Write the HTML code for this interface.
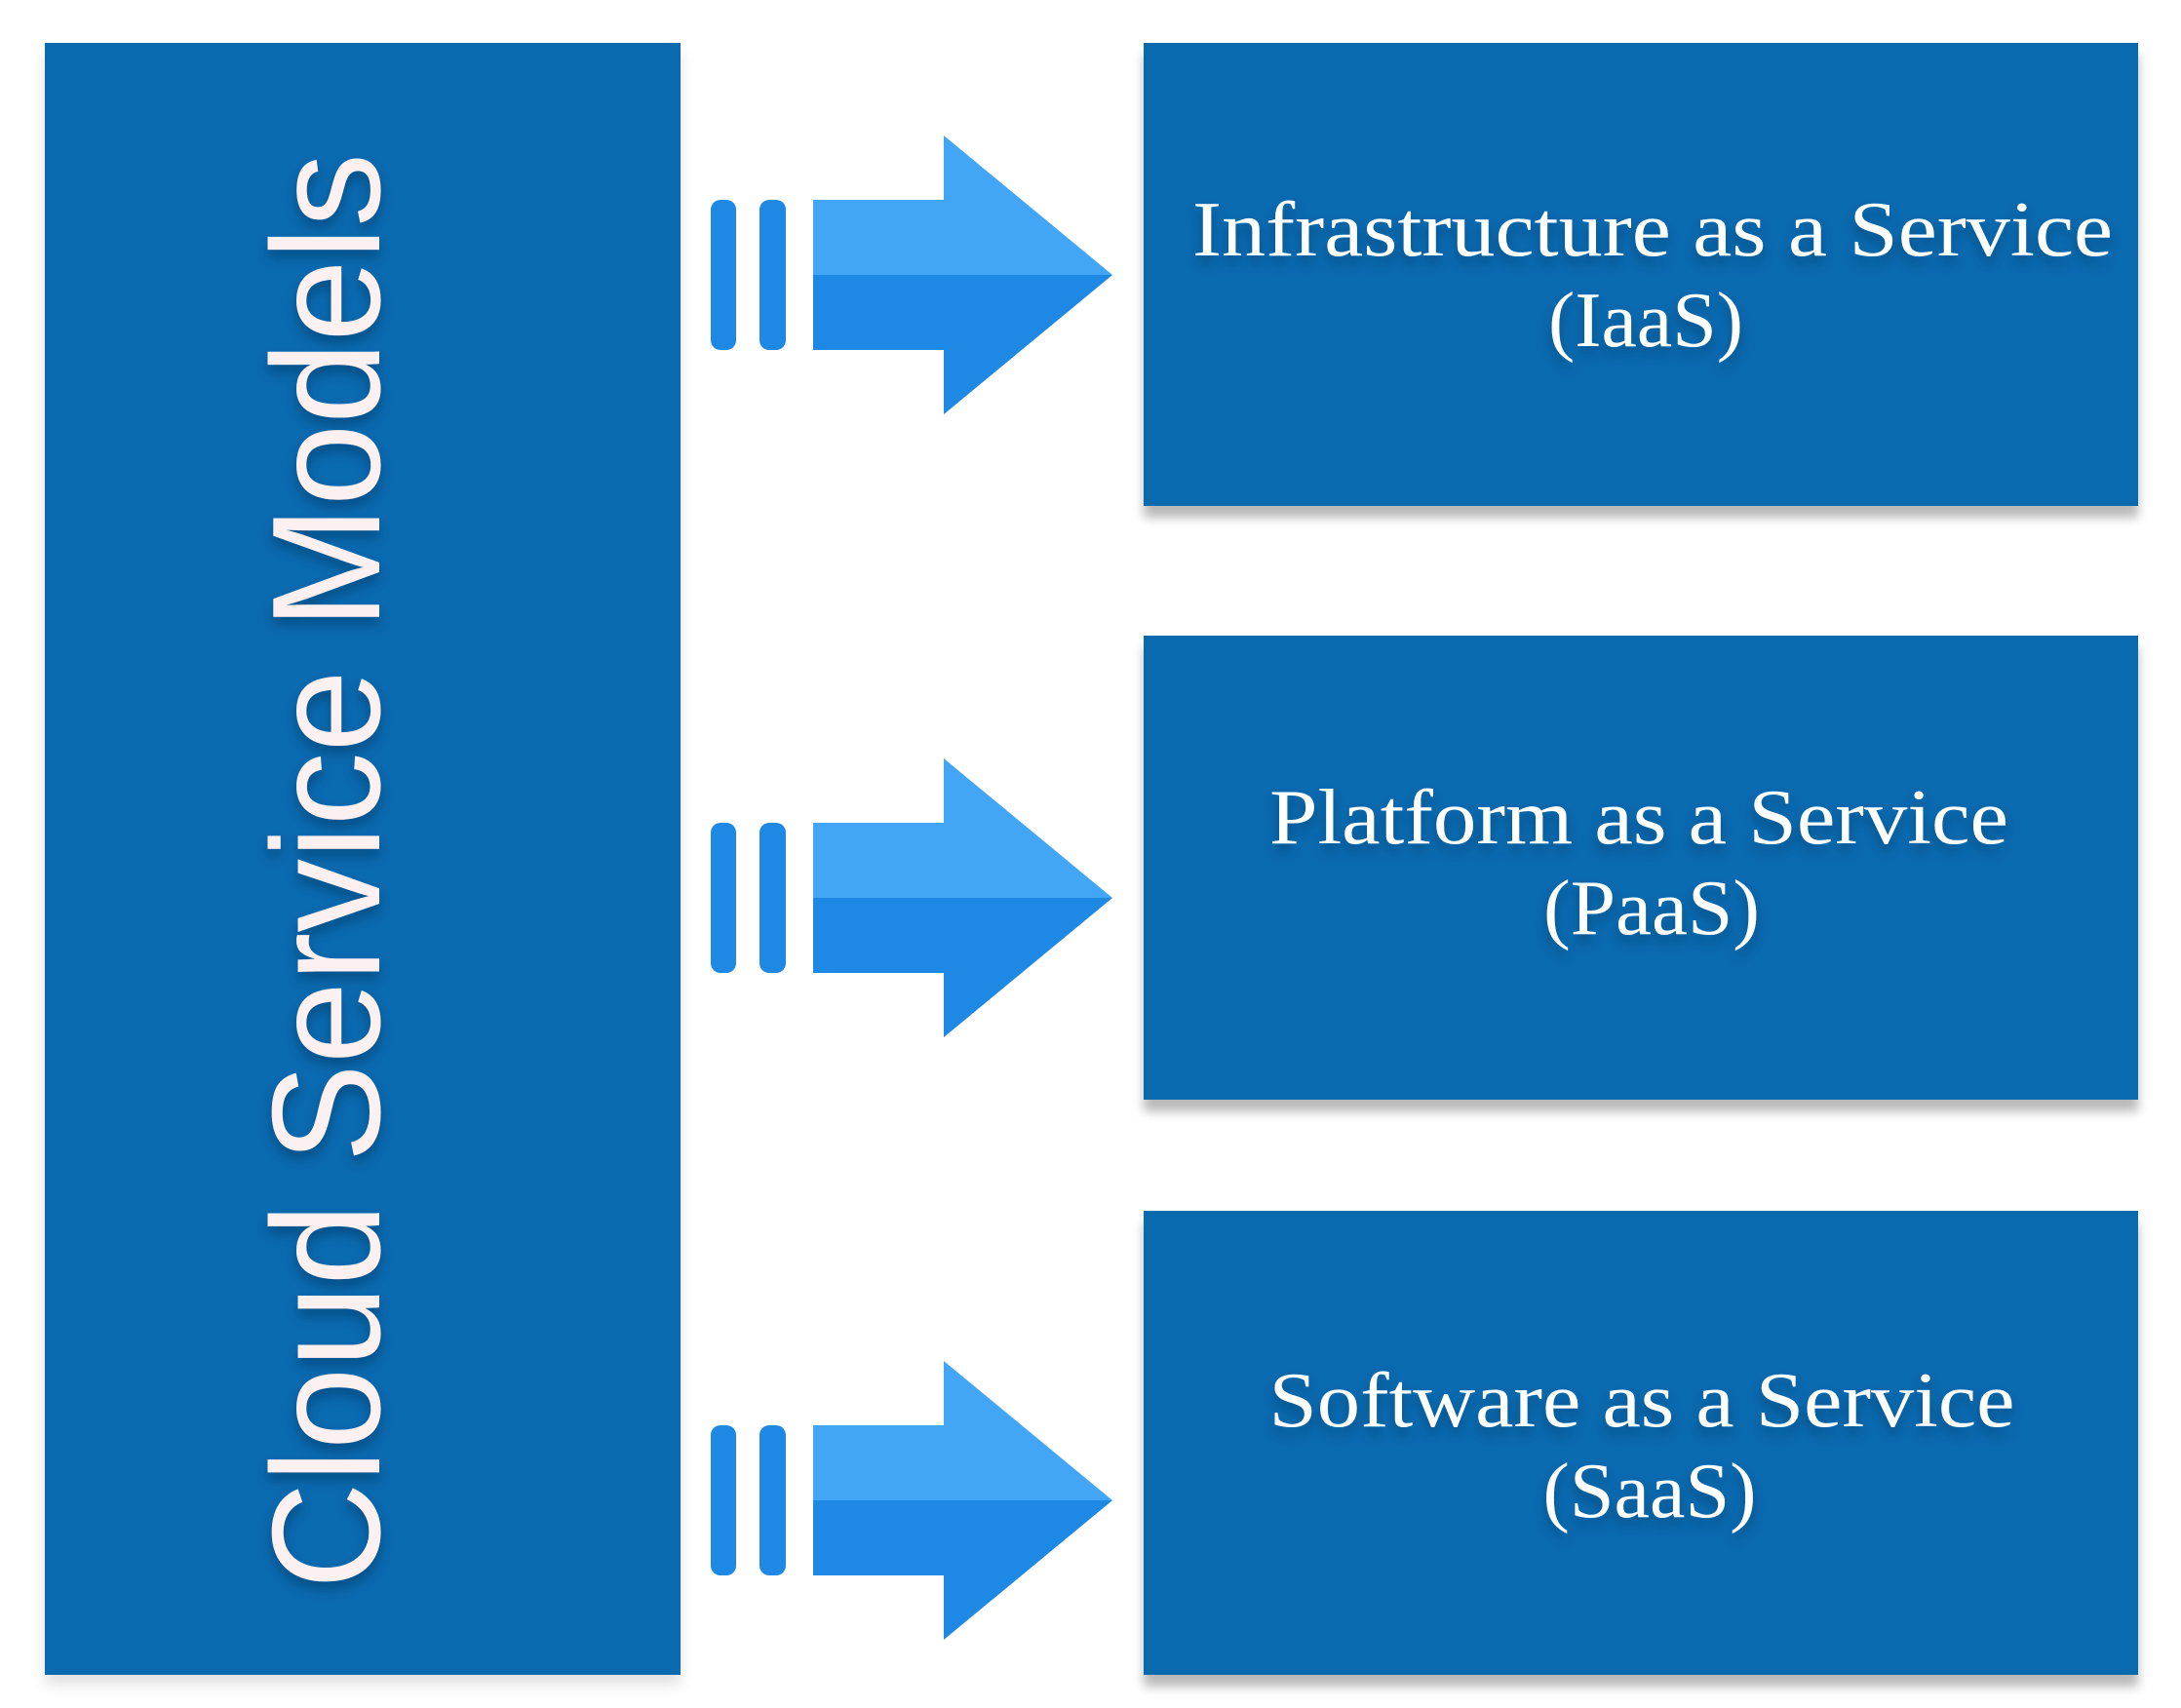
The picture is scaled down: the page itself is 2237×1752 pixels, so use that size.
<!DOCTYPE html>
<html><head><meta charset="utf-8"><style>
html,body{margin:0;padding:0;background:#fff;}
body{width:2237px;height:1752px;position:relative;overflow:hidden;}
.b{position:absolute;background:#0a6ab0;box-shadow:0 12px 10px rgba(0,0,0,0.28);}
svg{position:absolute;left:0;top:0;}
</style></head><body>
<div class="b" style="left:46px;top:44px;width:652px;height:1674px;box-shadow:0 10px 14px rgba(0,0,0,0.12)"></div>
<div class="b" style="left:1173px;top:44px;width:1020px;height:475px"></div>
<div class="b" style="left:1173px;top:652px;width:1020px;height:476px"></div>
<div class="b" style="left:1173px;top:1242px;width:1020px;height:476px"></div>
<svg width="2237" height="1752" viewBox="0 0 2237 1752">
<defs>
<filter id="sh" x="-10%" y="-30%" width="120%" height="160%"><feDropShadow dx="0" dy="8" stdDeviation="6" flood-color="#003a6a" flood-opacity="0.6"/></filter>
<g id="arr">
<rect x="729" y="205" width="26" height="154" rx="10" fill="#1e88e5"/>
<rect x="779" y="205" width="27" height="154" rx="10" fill="#1e88e5"/>
<polygon points="834,205 968,205 968,139 1141,282 834,282" fill="#42a5f5"/>
<polygon points="834,282 1141,282 968,425 968,359 834,359" fill="#1e88e5"/>
</g>
</defs>
<use href="#arr"/>
<use href="#arr" transform="translate(0,639)"/>
<use href="#arr" transform="translate(0,1257)"/>
<g fill="#fff" font-family="Liberation Serif, serif" font-size="80" text-anchor="middle" filter="url(#sh)">
<text x="1695" y="262" textLength="944" lengthAdjust="spacingAndGlyphs">Infrastructure as a Service</text>
<text x="1688" y="355" textLength="200" lengthAdjust="spacingAndGlyphs">(IaaS)</text>
<text x="1681" y="865" textLength="758" lengthAdjust="spacingAndGlyphs">Platform as a Service</text>
<text x="1694" y="958" textLength="222" lengthAdjust="spacingAndGlyphs">(PaaS)</text>
<text x="1684" y="1463" textLength="765" lengthAdjust="spacingAndGlyphs">Software as a Service</text>
<text x="1692" y="1556" textLength="219" lengthAdjust="spacingAndGlyphs">(SaaS)</text>
</g>
<g filter="url(#sh)">
<text transform="translate(389,1630) rotate(-90)" fill="#fdf0f0" font-family="Liberation Sans, sans-serif" font-size="158" textLength="1473" lengthAdjust="spacingAndGlyphs">Cloud Service Models</text>
</g>
</svg>
</body></html>
